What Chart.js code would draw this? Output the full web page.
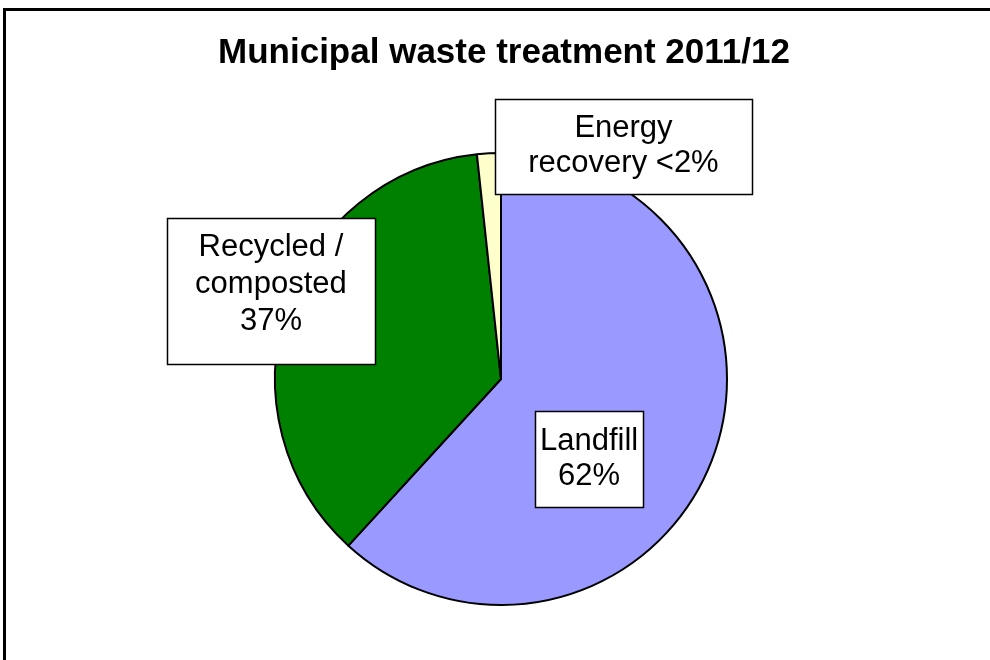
<!DOCTYPE html>
<html>
<head>
<meta charset="utf-8">
<script src="https://cdn.jsdelivr.net/npm/chart.js@4.4.1/dist/chart.umd.min.js"></script>
<style>
  html, body { margin: 0; padding: 0; background: #ffffff; }
  #wrap { width: 990px; height: 660px; position: relative; }
</style>
</head>
<body>
<div id="wrap"><canvas id="wasteChart"></canvas></div>
<script>
const titleText = "Municipal waste treatment 2011/12";
const categories = ["Landfill", "Recycled / composted", "Energy recovery"];
const shares = [61.8, 36.5, 1.7];
const labelLines = [
    ["Landfill", "62%"],
    ["Recycled /", "composted", "37%"],
    ["Energy", "recovery <2%"]
];
const sliceColors = ["#9999ff", "#008000", "#ffffcc"];

// label box centres, relative to pie centre, in radius units
const boxAnchors = [
    { dx: 0.39, dy: 0.355, w: 108, h: 96, lh: 35, textDy: 0 },
    { dx: -1.018, dy: -0.389, w: 208, h: 146, lh: 37, textDy: -7 },
    { dx: 0.542, dy: -1.029, w: 257, h: 95, lh: 35, textDy: 0 }
];

const framePlugin = {
    id: "frame",
    beforeDraw(chart) {
        const ctx = chart.ctx;
        ctx.save();
        ctx.fillStyle = "#ffffff";
        ctx.fillRect(0, 0, chart.width, chart.height);
        ctx.strokeStyle = "#000000";
        ctx.lineWidth = 3;
        ctx.strokeRect(4.5, 9.5, chart.width + 20, chart.height + 20);
        ctx.fillStyle = "#000000";
        ctx.font = "bold 35px 'Liberation Sans', Arial, sans-serif";
        ctx.textAlign = "center";
        ctx.textBaseline = "alphabetic";
        ctx.fillText(titleText, 504, 63);
        ctx.restore();
    }
};

const boxLabelPlugin = {
    id: "boxLabels",
    afterDatasetsDraw(chart) {
        const ctx = chart.ctx;
        const arcs = chart.getDatasetMeta(0).data;
        ctx.save();
        arcs.forEach((arc, i) => {
            const a = boxAnchors[i];
            const cx = arc.x + a.dx * arc.outerRadius;
            const cy = arc.y + a.dy * arc.outerRadius;
            const x0 = Math.round(cx - a.w / 2) + 0.5;
            const y0 = Math.round(cy - a.h / 2) + 0.5;
            ctx.fillStyle = "#ffffff";
            ctx.fillRect(x0, y0, a.w, a.h);
            ctx.strokeStyle = "#000000";
            ctx.lineWidth = 1.5;
            ctx.strokeRect(x0, y0, a.w, a.h);

            const lines = labelLines[i];
            ctx.fillStyle = "#000000";
            ctx.font = "31px 'Liberation Sans', Arial, sans-serif";
            ctx.textAlign = "center";
            ctx.textBaseline = "middle";
            const top = cy + a.textDy - (lines.length - 1) * a.lh / 2;
            lines.forEach((t, k) => ctx.fillText(t, cx, top + k * a.lh));
        });
        ctx.restore();
    }
};

new Chart(document.getElementById("wasteChart"), {
    type: "pie",
    data: {
        labels: categories,
        datasets: [{
            data: shares,
            backgroundColor: sliceColors,
            borderColor: "#000000",
            borderWidth: 2,
            hoverBorderWidth: 2,
            hoverOffset: 0
        }]
    },
    options: {
        responsive: true,
        maintainAspectRatio: false,
        animation: false,
        events: [],
        layout: {
            padding: { left: 274, right: 262, top: 152, bottom: 54 }
        },
        plugins: {
            legend: { display: false },
            title: { display: false },
            tooltip: { enabled: false }
        }
    },
    plugins: [framePlugin, boxLabelPlugin]
});
</script>
</body>
</html>
